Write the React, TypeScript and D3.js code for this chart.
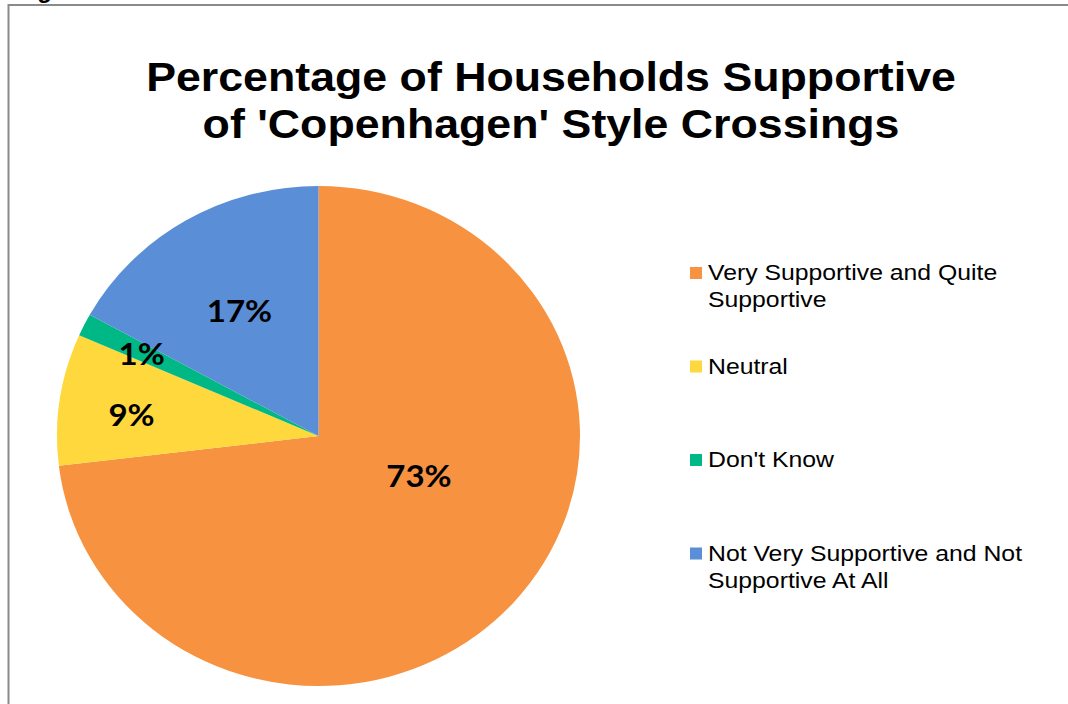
import React from "react";
import * as d3 from "d3";

const categories = [
  "Very Supportive and Quite Supportive",
  "Neutral",
  "Don't Know",
  "Not Very Supportive and Not Supportive At All",
];
const values = [73.1, 8.5, 1.45, 16.95];
const valueLabels = ["73%", "9%", "1%", "17%"];
const legendLines = [
  ["Very Supportive and Quite", "Supportive"],
  ["Neutral"],
  ["Don't Know"],
  ["Not Very Supportive and Not", "Supportive At All"],
];
const colors = ["#F69240", "#FED83C", "#00B886", "#5A8ED6"];
const titleLines = ["Percentage of Households Supportive", "of 'Copenhagen' Style Crossings"];

// label placement (angle in degrees clockwise from top, radius in px)
const labelPlacement = [
  [112.6, 104],
  [276.7, 180],
  [295.9, 188],
  [328.8, 146],
];

const W = 1068;
const H = 704;
const cx = 318.5;
const cy = 436;
const R = 250;
const pieStretch = 1.046;
const titleStretch = 1.118;
const legendStretch = 1.127;
const labelStretch = 1.1;

export default function App() {
  const pie = d3.pie<number>().sort(null).value((d) => d)(values);
  const arc = d3.arc<d3.PieArcDatum<number>>().innerRadius(0).outerRadius(R);
  const legendY = d3.scalePoint<number>().domain(d3.range(categories.length)).range([273, 553.5]);

  return (
    <svg width={W} height={H} style={{ position: "absolute", left: 0, top: 0, background: "#fff" }}>
      <rect x={0} y={0} width={W} height={H} fill="#fff" />
      {/* frame */}
      <path d={`M8.5,${H} L8.5,5 L${W},5`} fill="none" stroke="#8a8a8a" strokeWidth={2} />
      <text x={16} y={-2} fontFamily="Liberation Sans, Arial" fontWeight="bold" fontSize={24} fill="#000">Figure</text>

      {/* title */}
      {titleLines.map((t, i) => (
        <g key={i} transform={`translate(551, ${91 + i * 47}) scale(${titleStretch},1)`}>
          <text textAnchor="middle" fontFamily="Liberation Sans, Arial" fontWeight="bold" fontSize={40} fill="#000">{t}</text>
        </g>
      ))}

      {/* pie */}
      <g transform={`translate(${cx},${cy}) scale(${pieStretch},1)`}>
        {pie.map((d, i) => (
          <path key={i} d={arc(d) || ""} fill={colors[i]} />
        ))}
      </g>

      {/* data labels */}
      {pie.map((d, i) => {
        const [angDeg, r] = labelPlacement[i];
        const a = (angDeg * Math.PI) / 180;
        const x = cx + Math.sin(a) * r * pieStretch;
        const y = cy - Math.cos(a) * r;
        return (
          <g key={i} transform={`translate(${x},${y}) scale(${labelStretch},1)`}>
            <text textAnchor="middle" dy="0.36em" fontFamily="Lato, Carlito, sans-serif" fontWeight="bold" fontSize={30} fill="#000">
              {valueLabels[i]}
            </text>
          </g>
        );
      })}

      {/* legend */}
      {categories.map((c, i) => {
        const yc = legendY(i) as number;
        return (
          <g key={c}>
            <rect x={690} y={yc - 6} width={12} height={12} fill={colors[i]} />
            {legendLines[i].map((line, j) => (
              <g key={j} transform={`translate(708, ${yc + 7 + j * 27}) scale(${legendStretch},1)`}>
                <text fontFamily="Liberation Sans, Arial" fontSize={22} fill="#000">{line}</text>
              </g>
            ))}
          </g>
        );
      })}
    </svg>
  );
}
